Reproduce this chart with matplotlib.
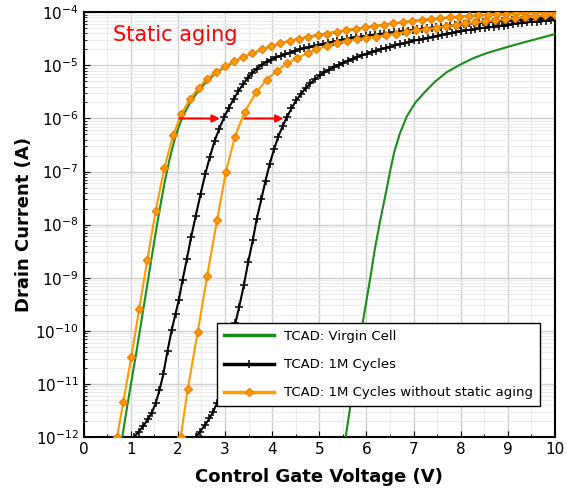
import numpy as np
import matplotlib
matplotlib.use("Agg")
import matplotlib.pyplot as plt
from matplotlib.ticker import MultipleLocator, LogLocator, NullFormatter

# --- data (gate voltage in V, log10 of drain current in A) ---

# TCAD: virgin cell, left (erased) and right (programmed) branches
virgin_left_v = [0.82, 0.92, 1.02, 1.12, 1.22, 1.32, 1.42, 1.52, 1.62, 1.72, 1.82, 1.92, 2.02,
                 2.12, 2.25, 2.40, 2.60, 2.80, 3.00, 3.20, 3.50, 4.00, 4.50, 5.00, 6.00, 7.00,
                 8.00, 9.00, 10.0]
virgin_left_log = [-12.0, -11.45, -10.92, -10.40, -9.85, -9.30, -8.75, -8.20, -7.68, -7.20,
                   -6.78, -6.43, -6.15, -5.93, -5.72, -5.52, -5.31, -5.15, -5.03, -4.93, -4.80,
                   -4.63, -4.51, -4.42, -4.28, -4.16, -4.08, -4.03, -3.98]

virgin_right_v = [5.56, 5.70, 5.82, 5.93, 6.08, 6.18, 6.29, 6.39, 6.50, 6.59, 6.71, 6.85, 7.03,
                  7.24, 7.45, 7.70, 7.98, 8.25, 8.55, 8.85, 9.12, 9.45, 9.75, 10.0]
virgin_right_log = [-12.0, -11.17, -10.45, -9.80, -9.01, -8.45, -7.93, -7.50, -7.00, -6.63,
                    -6.28, -5.97, -5.71, -5.50, -5.31, -5.13, -4.99, -4.87, -4.77, -4.69, -4.62,
                    -4.54, -4.47, -4.41]

# TCAD: 1M cycles
cyc_left_v = [1.07, 1.17, 1.27, 1.36, 1.45, 1.53, 1.61, 1.69, 1.78, 1.87, 1.95, 2.02, 2.10,
              2.19, 2.28, 2.38, 2.48, 2.58, 2.68, 2.78, 2.88, 2.98, 3.08, 3.18, 3.28, 3.38,
              3.48, 3.58, 3.68, 3.78, 3.88, 3.98, 4.08, 4.18, 4.28, 4.38, 4.48, 4.58, 4.68,
              4.78, 4.88, 4.98, 5.08, 5.18, 5.28, 5.38, 5.48, 5.58, 5.68, 5.78, 5.88, 5.98,
              6.08, 6.18, 6.28, 6.38, 6.48, 6.58, 6.68, 6.78, 6.88, 6.98, 7.08, 7.18, 7.28,
              7.38, 7.48, 7.58, 7.68, 7.78, 7.88, 7.98, 8.08, 8.18, 8.28, 8.38, 8.48, 8.58,
              8.68, 8.78, 8.88, 8.98, 9.08, 9.18, 9.28, 9.38, 9.48, 9.58, 9.68, 9.78, 9.88,
              9.98]
cyc_left_log = [-12.0, -11.90, -11.79, -11.67, -11.54, -11.36, -11.12, -10.82, -10.38, -9.98,
                -9.68, -9.42, -9.04, -8.65, -8.24, -7.83, -7.43, -7.05, -6.72, -6.42, -6.19,
                -5.98, -5.80, -5.64, -5.49, -5.36, -5.24, -5.14, -5.06, -4.99, -4.93, -4.89,
                -4.85, -4.82, -4.79, -4.76, -4.73, -4.70, -4.68, -4.66, -4.64, -4.62, -4.60,
                -4.58, -4.56, -4.54, -4.52, -4.50, -4.49, -4.47, -4.46, -4.45, -4.43, -4.42,
                -4.41, -4.40, -4.39, -4.38, -4.37, -4.36, -4.35, -4.34, -4.32, -4.31, -4.30,
                -4.29, -4.28, -4.27, -4.26, -4.25, -4.24, -4.23, -4.22, -4.21, -4.21, -4.20,
                -4.19, -4.18, -4.18, -4.17, -4.16, -4.16, -4.15, -4.14, -4.14, -4.13, -4.13,
                -4.12, -4.12, -4.11, -4.11, -4.10]

cyc_right_v = [2.38, 2.47, 2.58, 2.67, 2.75, 2.83, 2.91, 2.99, 3.07, 3.15, 3.22, 3.30, 3.40,
               3.49, 3.59, 3.67, 3.77, 3.86, 3.95, 4.04, 4.13, 4.22, 4.31, 4.41, 4.51, 4.61,
               4.71, 4.81, 4.91, 5.01, 5.11, 5.21, 5.31, 5.41, 5.51, 5.61, 5.71, 5.81, 5.91,
               6.01, 6.11, 6.21, 6.31, 6.41, 6.51, 6.61, 6.71, 6.81, 6.91, 7.01, 7.11, 7.21,
               7.31, 7.41, 7.51, 7.61, 7.71, 7.81, 7.91, 8.01, 8.11, 8.21, 8.31, 8.41, 8.51,
               8.61, 8.71, 8.81, 8.91, 9.01, 9.11, 9.21, 9.31, 9.41, 9.51, 9.61, 9.71, 9.81,
               9.91, 10.0]
cyc_right_log = [-12.0, -11.90, -11.77, -11.65, -11.52, -11.36, -11.14, -10.88, -10.55,
                 -10.18, -9.86, -9.55, -9.14, -8.71, -8.29, -7.90, -7.52, -7.17, -6.85, -6.58,
                 -6.34, -6.15, -5.98, -5.81, -5.66, -5.54, -5.43, -5.34, -5.26, -5.19, -5.13,
                 -5.08, -5.03, -4.99, -4.95, -4.91, -4.88, -4.84, -4.81, -4.78, -4.75, -4.72,
                 -4.70, -4.67, -4.65, -4.62, -4.60, -4.58, -4.56, -4.53, -4.52, -4.50, -4.48,
                 -4.46, -4.44, -4.42, -4.40, -4.39, -4.37, -4.36, -4.34, -4.33, -4.32, -4.30,
                 -4.29, -4.28, -4.27, -4.26, -4.25, -4.24, -4.22, -4.21, -4.20, -4.19, -4.18,
                 -4.18, -4.17, -4.16, -4.15, -4.14]

# TCAD: 1M cycles without static aging
nosa_left_v = [0.71, 0.84, 1.01, 1.18, 1.35, 1.53, 1.71, 1.90, 2.07, 2.26, 2.44, 2.62, 2.81,
               3.01, 3.20, 3.39, 3.58, 3.78, 3.97, 4.17, 4.37, 4.57, 4.77, 4.97, 5.17, 5.37,
               5.57, 5.77, 5.97, 6.17, 6.37, 6.57, 6.77, 6.97, 7.17, 7.37, 7.57, 7.77, 7.97,
               8.17, 8.37, 8.57, 8.77, 8.97, 9.17, 9.37, 9.57, 9.77, 9.97]
nosa_left_log = [-12.0, -11.35, -10.50, -9.59, -8.67, -7.74, -6.94, -6.31, -5.92, -5.63, -5.42,
                 -5.25, -5.12, -5.01, -4.92, -4.84, -4.77, -4.70, -4.64, -4.58, -4.54, -4.50,
                 -4.46, -4.43, -4.40, -4.37, -4.34, -4.31, -4.28, -4.26, -4.23, -4.21, -4.18,
                 -4.16, -4.14, -4.12, -4.11, -4.09, -4.08, -4.07, -4.06, -4.05, -4.04, -4.03,
                 -4.02, -4.01, -4.00, -3.99, -3.98]

nosa_right_v = [2.06, 2.21, 2.42, 2.62, 2.83, 3.02, 3.21, 3.42, 3.66, 3.88, 4.11, 4.32, 4.53,
                4.75, 4.94, 5.16, 5.37, 5.58, 5.79, 6.00, 6.21, 6.42, 6.63, 6.84, 7.05, 7.26,
                7.47, 7.68, 7.89, 8.10, 8.31, 8.52, 8.73, 8.94, 9.15, 9.36, 9.57, 9.78, 9.99]
nosa_right_log = [-12.0, -11.09, -10.03, -8.97, -7.92, -7.00, -6.34, -5.87, -5.51, -5.27,
                  -5.10, -4.96, -4.86, -4.77, -4.70, -4.63, -4.57, -4.54, -4.51, -4.48, -4.46,
                  -4.43, -4.40, -4.37, -4.34, -4.32, -4.29, -4.26, -4.24, -4.21, -4.19, -4.17,
                  -4.15, -4.13, -4.11, -4.09, -4.07, -4.06, -4.05]

# shift arrows at 1 uA (start V, end V)
arrows_v = [(1.97, 2.95), (3.35, 4.30)]
arrow_level = 1e-6

GREEN = "#1a8c1a"
ORANGE = "#ff9a00"

fig = plt.figure(figsize=(5.71, 4.98), dpi=100)
ax = fig.add_axes([0.1464, 0.1225, 0.8256, 0.8528])

ax.semilogy(virgin_left_v, 10 ** np.array(virgin_left_log), color=GREEN, lw=1.5,
            label="TCAD: Virgin Cell", zorder=3)
ax.semilogy(virgin_right_v, 10 ** np.array(virgin_right_log), color=GREEN, lw=1.5, zorder=3)

for v, lg, lab in [(cyc_left_v, cyc_left_log, "TCAD: 1M Cycles"), (cyc_right_v, cyc_right_log, None)]:
    ax.semilogy(v, 10 ** np.array(lg), color="black", lw=1.5, marker="+", markersize=5.5,
                markeredgewidth=1.1, label=lab, zorder=4)

for v, lg, lab in [(nosa_left_v, nosa_left_log, "TCAD: 1M Cycles without static aging"),
                   (nosa_right_v, nosa_right_log, None)]:
    ax.semilogy(v, 10 ** np.array(lg), color=ORANGE, lw=1.5, marker="D", markersize=4,
                markerfacecolor=ORANGE, markeredgecolor="#f08000", label=lab, zorder=5)

for x0, x1 in arrows_v:
    ax.annotate("", xy=(x1, arrow_level), xytext=(x0, arrow_level),
                arrowprops=dict(arrowstyle="-|>", color="red", lw=1.5, mutation_scale=11),
                zorder=6)

ax.text(0.62, 3.7e-5, "Static aging", color="red", fontsize=15, va="center", ha="left")

ax.set_xlim(0, 10)
ax.set_ylim(1e-12, 1e-4)
ax.set_xticks(range(0, 11))
ax.xaxis.set_minor_locator(MultipleLocator(0.5))
ax.yaxis.set_major_locator(LogLocator(base=10, numticks=20))
ax.yaxis.set_minor_locator(LogLocator(base=10, subs=np.arange(2, 10), numticks=100))
ax.yaxis.set_minor_formatter(NullFormatter())

ax.grid(which="major", color="#cfcfcf", lw=1.0, zorder=0)
ax.grid(which="minor", color="#ebebeb", lw=0.8, zorder=0)
ax.set_axisbelow(True)

ax.tick_params(which="both", direction="in", labelsize=11)
ax.tick_params(which="major", length=4)
ax.tick_params(which="minor", length=2)
for s in ax.spines.values():
    s.set_linewidth(1.5)

ax.set_xlabel("Control Gate Voltage (V)", fontsize=13, fontweight="bold", labelpad=8)
ax.set_ylabel("Drain Current (A)", fontsize=13, fontweight="bold", labelpad=2)

leg = ax.legend(loc="lower right", bbox_to_anchor=(0.968, 0.073), borderaxespad=0,
                fontsize=9.5, fancybox=False, edgecolor="black", framealpha=1,
                handlelength=3.8, labelspacing=1.15, borderpad=0.5, numpoints=1)
leg.get_frame().set_linewidth(1.0)
for h in leg.legend_handles:
    h.set_linewidth(2.5)

fig.savefig("out.png", dpi=100)
